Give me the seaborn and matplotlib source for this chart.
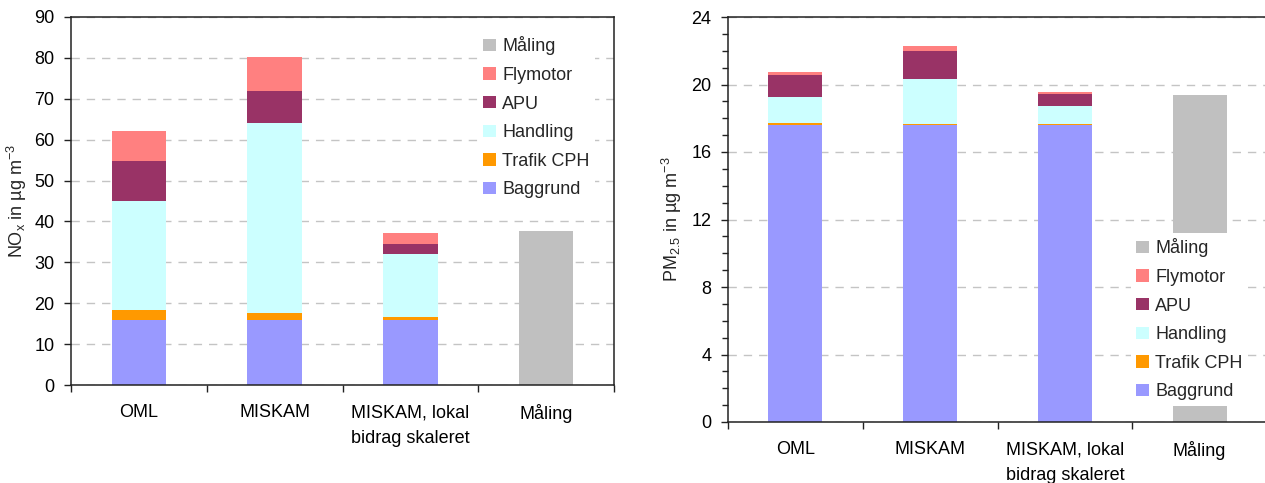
import numpy as np
import pandas as pd
import matplotlib
matplotlib.use("Agg")
import matplotlib.pyplot as plt
from matplotlib.patches import Patch
from matplotlib.ticker import MultipleLocator, FixedLocator
import seaborn as sns

# ---------------- data ----------------
categories = ["OML", "MISKAM", "MISKAM, lokal\nbidrag skaleret", "Måling"]
stack_names = ["Baggrund", "Trafik CPH", "Handling", "APU", "Flymotor"]  # bottom -> top
legend_order = ["Måling", "Flymotor", "APU", "Handling", "Trafik CPH", "Baggrund"]

# NOx (µg/m3)
nox_baggrund = [16.0, 16.0, 16.0, 0.0]
nox_trafik = [2.3, 1.6, 0.6, 0.0]
nox_handling = [26.7, 46.5, 15.4, 0.0]
nox_apu = [9.8, 7.9, 2.5, 0.0]
nox_flymotor = [7.3, 8.2, 2.7, 0.0]
nox_maaling = [0.0, 0.0, 0.0, 37.7]

# PM2.5 (µg/m3)
pm_baggrund = [17.6, 17.6, 17.6, 0.0]
pm_trafik = [0.12, 0.06, 0.06, 0.0]
pm_handling = [1.55, 2.65, 1.05, 0.0]
pm_apu = [1.3, 1.7, 0.7, 0.0]
pm_flymotor = [0.2, 0.25, 0.15, 0.0]
pm_maaling = [0.0, 0.0, 0.0, 19.4]

colors = {
    "Baggrund": "#9999FF",
    "Trafik CPH": "#FF9900",
    "Handling": "#CCFFFF",
    "APU": "#993366",
    "Flymotor": "#FF8080",
    "Måling": "#C0C0C0",
}

# ---------------- style ----------------
sns.set_theme(style="white")
plt.rcParams["font.family"] = ["Liberation Sans", "DejaVu Sans"]
plt.rcParams["mathtext.fontset"] = "custom"
plt.rcParams["mathtext.rm"] = "Liberation Sans"
plt.rcParams["mathtext.it"] = "Liberation Sans"
FS = 13

W, H = 1265, 483
fig = plt.figure(figsize=(W / 100, H / 100), dpi=100)
fig.patch.set_facecolor("white")

ax1 = fig.add_axes([71 / W, (H - 385) / H, 543 / W, 368 / H])
ax2 = fig.add_axes([728 / W, (H - 422) / H, 539 / W, 405 / H])


def draw(ax, parts, maaling):
    # Måling bar
    sns.barplot(x=categories, y=maaling, order=categories, color=colors["Måling"],
                saturation=1, width=0.4, errorbar=None, linewidth=0, ax=ax)
    cum = np.cumsum(np.array(parts, dtype=float), axis=0)
    for i in reversed(range(len(stack_names))):
        sns.barplot(x=categories, y=cum[i], order=categories,
                    color=colors[stack_names[i]], saturation=1, width=0.4,
                    errorbar=None, linewidth=0, ax=ax)


draw(ax1, [nox_baggrund, nox_trafik, nox_handling, nox_apu, nox_flymotor], nox_maaling)
draw(ax2, [pm_baggrund, pm_trafik, pm_handling, pm_apu, pm_flymotor], pm_maaling)

for ax in (ax1, ax2):
    ax.set_xlim(-0.5, 3.5)
    ax.set_xlabel("")
    ax.set_axisbelow(True)
    ax.yaxis.grid(True, linestyle=(0, (6, 5)), color="#C4C4C4", linewidth=1)
    ax.xaxis.grid(False)
    for s in ax.spines.values():
        s.set_color("#222222")
        s.set_linewidth(1.1)
    ax.xaxis.set_minor_locator(FixedLocator([-0.5, 0.5, 1.5, 2.5, 3.5]))
    ax.tick_params(axis="x", which="major", length=0, pad=14, labelsize=FS, colors="black")
    ax.tick_params(axis="x", which="minor", length=5, width=1, color="#222222", direction="out", bottom=True)
    ax.tick_params(axis="y", which="major", length=5, width=1, color="#222222", direction="out",
                   left=True, pad=7, labelsize=FS, labelcolor="black")
    for lbl in ax.get_xticklabels():
        lbl.set_linespacing(1.65)

ax1.set_ylim(0, 90)
ax1.yaxis.set_major_locator(MultipleLocator(10))
ax1.set_ylabel(r"NO$_\mathregular{x}$ in µg m$^\mathregular{-3}$", fontsize=FS)
ax1.yaxis.set_label_coords(-42 / 543, 0.5)

ax2.set_ylim(0, 24)
ax2.yaxis.set_major_locator(MultipleLocator(4))
ax2.yaxis.set_minor_locator(MultipleLocator(1))
ax2.tick_params(axis="y", which="minor", length=4, width=1, color="#222222", direction="out", left=True)
ax2.set_ylabel(r"PM$_\mathregular{2.5}$ in µg m$^\mathregular{-3}$", fontsize=FS)
ax2.yaxis.set_label_coords(-44 / 539, 0.5)
ax2.spines["right"].set_visible(False)

handles = [Patch(facecolor=colors[n], edgecolor="none", label=n) for n in legend_order]
leg_kw = dict(loc="upper left", fontsize=FS, frameon=True, facecolor="white", edgecolor="none",
              framealpha=1, fancybox=False, borderaxespad=0, borderpad=0.3,
              handlelength=0.68, handleheight=0.68, handletextpad=0.35, labelspacing=0.64)
leg1 = ax1.legend(handles=handles, bbox_to_anchor=((478 - 71) / 543, (385 - 31) / 368), **leg_kw)
leg2 = ax2.legend(handles=handles, bbox_to_anchor=((1131 - 728) / 539, (422 - 233) / 405), **leg_kw)
for leg in (leg1, leg2):
    leg.set_zorder(10)

fig.savefig("out.png", dpi=100, facecolor="white")
